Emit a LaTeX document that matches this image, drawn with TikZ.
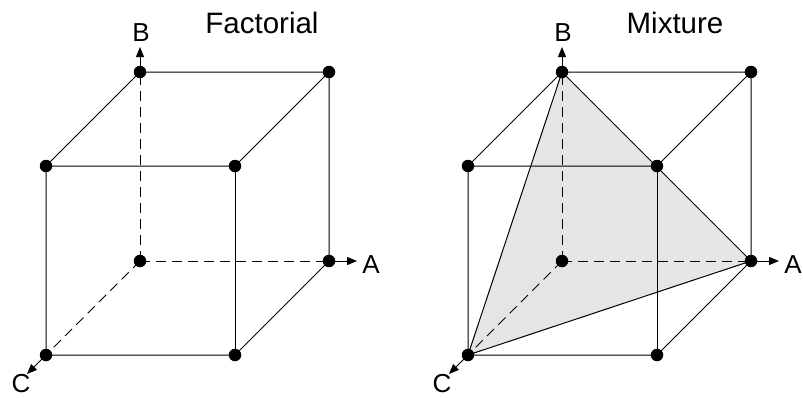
\documentclass[tikz,border=0pt]{standalone}
\usepackage{fontspec}
\setmainfont{Liberation Sans}
\usetikzlibrary{arrows.meta}
\begin{document}
\begin{tikzpicture}[x=1pt,y=-1pt,
  vtx/.style={circle,fill=black,inner sep=0pt,minimum size=12.5pt},
  edge/.style={line width=1pt},
  back/.style={line width=1pt,dash pattern=on 10pt off 6pt},
  axis/.style={line width=1pt,-{Triangle[length=10pt,width=8pt]}},
  lab/.style={font=\fontsize{26}{28}\selectfont},
  ttl/.style={font=\fontsize{29.5}{31}\selectfont}]
\useasboundingbox (0,0) rectangle (803,397);
% ---------- left cube ----------
\coordinate (O1) at (140,261);
\coordinate (tipB1) at (140,47);
\coordinate (tipA1) at (357,261);
\coordinate (tipC1) at (27,374);
\draw[back] (O1) -- (140,72);
\draw[back] (O1) -- (329,261);
\draw[back] (O1) -- (46,355);
\node[vtx] (vO1) at (O1) {};
\node[vtx] (B1) at (140,72) {};
\node[vtx] (AB1) at (329,72) {};
\node[vtx] (A1) at (329,261) {};
\node[vtx] (C1) at (46,355) {};
\node[vtx] (AC1) at (235,355) {};
\node[vtx] (BC1) at (46,166) {};
\node[vtx] (ABC1) at (235,166) {};
\draw[edge] (B1.center) -- (AB1.center) -- (A1.center) -- (AC1.center) -- (C1.center) -- (BC1.center) -- (B1.center);
\draw[edge] (BC1.center) -- (ABC1.center) -- (AB1.center);
\draw[edge] (ABC1.center) -- (AC1.center);
\draw[axis] (B1.center) -- (tipB1);
\draw[axis] (A1.center) -- (tipA1);
\draw[axis] (C1.center) -- (tipC1);
\node[lab] (LB1) at (141,33) {B};
\node[lab] (LA1) at (371,265) {A};
\node[lab] (LC1) at (21,384) {C};
\node[ttl] (T1) at (262,23) {Factorial};
% ---------- right cube ----------
\coordinate (O2) at (562,261);
\coordinate (tipB2) at (562,47);
\coordinate (tipA2) at (779,261);
\coordinate (tipC2) at (449,374);
\fill[black!10] (562,72) -- (751,261) -- (468,355) -- cycle;
\draw[back] (O2) -- (562,72);
\draw[back] (O2) -- (751,261);
\draw[back] (O2) -- (468,355);
\node[vtx] (vO2) at (O2) {};
\node[vtx] (B2) at (562,72) {};
\node[vtx] (AB2) at (751,72) {};
\node[vtx] (A2) at (751,261) {};
\node[vtx] (C2) at (468,355) {};
\node[vtx] (AC2) at (657,355) {};
\node[vtx] (BC2) at (468,166) {};
\node[vtx] (ABC2) at (657,166) {};
\draw[edge] (B2.center) -- (AB2.center) -- (A2.center) -- (AC2.center) -- (C2.center) -- (BC2.center) -- (B2.center);
\draw[edge] (BC2.center) -- (ABC2.center) -- (AB2.center);
\draw[edge] (ABC2.center) -- (AC2.center);
\draw[edge] (B2.center) -- (A2.center) -- (C2.center) -- (B2.center);
\draw[axis] (B2.center) -- (tipB2);
\draw[axis] (A2.center) -- (tipA2);
\draw[axis] (C2.center) -- (tipC2);
\node[lab] (LB2) at (563,33) {B};
\node[lab] (LA2) at (793,265) {A};
\node[lab] (LC2) at (442,384) {C};
\node[ttl] (T2) at (675,23) {Mixture};
\end{tikzpicture}
\end{document}
